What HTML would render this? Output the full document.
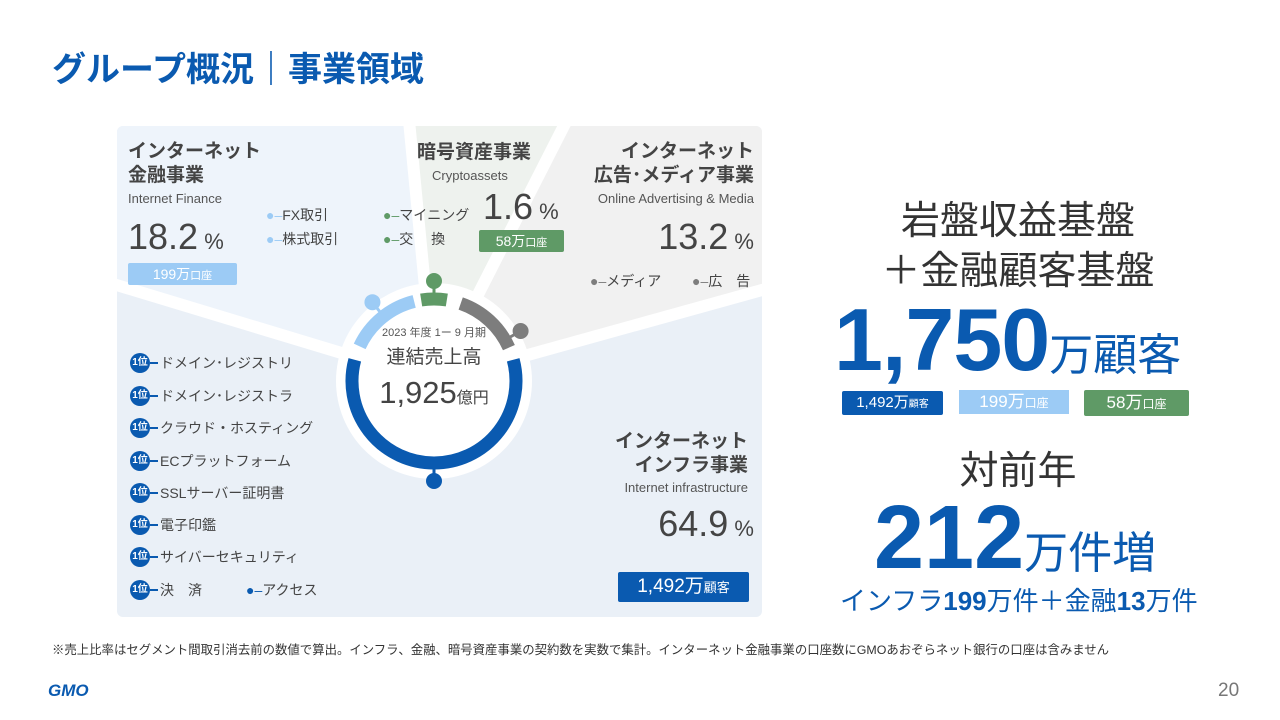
<!DOCTYPE html>
<html><head><meta charset="utf-8"><style>
body{margin:0;width:1280px;height:720px;background:#fff;overflow:hidden;position:relative;font-family:"Liberation Sans","Noto Sans CJK JP",sans-serif;color:#444}
.a{position:absolute;white-space:nowrap}
.h{font-weight:bold;font-size:19px;color:#444;line-height:24px}
.en{font-size:13px;color:#555}
.pct{font-size:36px;color:#444}
.pct small{font-size:22px}
.li{font-size:14px;color:#444}
.rank{position:absolute;left:130px;width:20px;height:20px;border-radius:50%;background:#0a5ab0;color:#fff;font-size:10px;text-align:center;line-height:20px;font-weight:bold}
.rl{position:absolute;left:160px;font-size:14px;color:#444}
.rk{position:absolute;left:150px;width:8px;height:2px;background:#0a5ab0}
</style></head><body>
<div class="a" style="left:52px;top:42px;font-size:34px;font-weight:bold;color:#0a5ab0">グループ概況｜事業領域</div>

<svg class="a" style="left:0;top:0" width="1280" height="720">
 <defs><clipPath id="c"><rect x="117" y="126" width="645" height="491" rx="6"/></clipPath></defs>
 <g clip-path="url(#c)">
  <rect x="117" y="126" width="645" height="491" fill="#eaf0f7"/>
  <polygon points="117,126 410,126 434,381 117,285" fill="#eef4fb"/>
  <polygon points="410,126 565,126 434,381" fill="#eef2ee"/>
  <polygon points="565,126 762,126 762,290 434,381" fill="#f1f1f1"/>
  <g stroke="#fff" stroke-width="12">
   <line x1="408" y1="110" x2="434" y2="381"/><line x1="572" y1="110" x2="434" y2="381"/>
   <line x1="100" y1="280" x2="434" y2="381"/><line x1="780" y1="285" x2="434" y2="381"/>
  </g>
 </g>
 <circle cx="434" cy="381" r="98" fill="#fff"/>
 <g id="donut"></g>
</svg>

<script>
const segNames=['infra','finance','crypto','media'];
const segStart=[75,295,-9,19];
const segEnd=[285,346,9,66];
const segColors=['#0a5ab0','#9ccbf5','#5f9a66','#7d7d7d'];
const pinAngle=[180,322,0,60];
const g=document.getElementById('donut');const cx=434,cy=381,r=82;
function pt(a,rr){const t=a*Math.PI/180;return [cx+rr*Math.sin(t),cy-rr*Math.cos(t)];}
for(let i=0;i<segNames.length;i++){
 const p1=pt(segStart[i],r),p2=pt(segEnd[i],r);const large=(segEnd[i]-segStart[i])>180?1:0;
 const p=document.createElementNS('http://www.w3.org/2000/svg','path');
 p.setAttribute('d',`M${p1[0]},${p1[1]} A${r},${r} 0 ${large} 1 ${p2[0]},${p2[1]}`);
 p.setAttribute('fill','none');p.setAttribute('stroke',segColors[i]);p.setAttribute('stroke-width','13');
 
 
 g.appendChild(p);
 const a=pt(pinAngle[i],r+6),b=pt(pinAngle[i],r+18);
 const l=document.createElementNS('http://www.w3.org/2000/svg','line');
 l.setAttribute('x1',a[0]);l.setAttribute('y1',a[1]);l.setAttribute('x2',b[0]);l.setAttribute('y2',b[1]);
 l.setAttribute('stroke',segColors[i]);l.setAttribute('stroke-width','3');
 
 
 g.appendChild(l);
 const c=document.createElementNS('http://www.w3.org/2000/svg','circle');
 c.setAttribute('cx',b[0]);c.setAttribute('cy',b[1]);c.setAttribute('r','8');c.setAttribute('fill',segColors[i]);
 
 
 g.appendChild(c);
}
</script>

<div class="a" style="left:354px;top:324px;width:160px;text-align:center">
 <div style="font-size:11px;color:#555">2023 年度 1ー 9 月期</div>
 <div style="font-size:19px;color:#444;margin-top:2px">連結売上高</div>
 <div style="font-size:31px;color:#444;margin-top:6px">1,925<span style="font-size:16px">億円</span></div>
</div>

<!-- finance -->
<div class="a h" style="left:128px;top:140px">インターネット<br>金融事業</div>
<div class="a en" style="left:128px;top:191px">Internet Finance</div>
<div class="a pct" style="left:128px;top:216px">18.2<small> %</small></div>
<div class="a" style="left:128px;top:263px;width:109px;height:22px;background:#9ccbf5;color:#fff;text-align:center;font-size:14px;line-height:22px;border-radius:2px">199万<span style="font-size:11px">口座</span></div>
<div class="a li" style="left:266px;top:205px"><span style="color:#9ccbf5">●‒</span>FX取引</div>
<div class="a li" style="left:266px;top:229px"><span style="color:#9ccbf5">●‒</span>株式取引</div>
<!-- crypto -->
<div class="a h" style="left:417px;top:141px">暗号資産事業</div>
<div class="a en" style="left:432px;top:168px">Cryptoassets</div>
<div class="a li" style="left:383px;top:205px"><span style="color:#5f9a66">●‒</span>マイニング</div>
<div class="a li" style="left:383px;top:229px"><span style="color:#5f9a66">●‒</span>交　 換</div>
<div class="a pct" style="left:483px;top:186px">1.6<small> %</small></div>
<div class="a" style="left:479px;top:230px;width:85px;height:22px;background:#5f9a66;color:#fff;text-align:center;font-size:14px;line-height:22px;border-radius:2px">58万<span style="font-size:11px">口座</span></div>
<!-- media -->
<div class="a h" style="right:526px;top:140px;text-align:right">インターネット<br>広告･メディア事業</div>
<div class="a en" style="right:526px;top:191px">Online Advertising &amp; Media</div>
<div class="a pct" style="right:526px;top:216px">13.2<small> %</small></div>
<div class="a li" style="left:590px;top:271px"><span style="color:#7d7d7d">●‒</span>メディア</div>
<div class="a li" style="left:692px;top:271px"><span style="color:#7d7d7d">●‒</span>広　告</div>
<!-- infra -->
<div class="a h" style="right:532px;top:430px;text-align:right">インターネット<br>インフラ事業</div>
<div class="a en" style="right:532px;top:480px">Internet infrastructure</div>
<div class="a pct" style="right:526px;top:503px">64.9<small> %</small></div>
<div class="a" style="left:618px;top:572px;width:131px;height:30px;background:#0a5ab0;color:#fff;text-align:center;font-size:19px;line-height:30px;border-radius:2px">1,492万<span style="font-size:13px">顧客</span></div>

<div>
<div class="rank" style="top:353px">1位</div><div class="rk" style="top:362px"></div><div class="rl" style="top:353px">ドメイン･レジストリ</div>
<div class="rank" style="top:386px">1位</div><div class="rk" style="top:395px"></div><div class="rl" style="top:386px">ドメイン･レジストラ</div>
<div class="rank" style="top:418px">1位</div><div class="rk" style="top:427px"></div><div class="rl" style="top:418px">クラウド・ホスティング</div>
<div class="rank" style="top:451px">1位</div><div class="rk" style="top:460px"></div><div class="rl" style="top:451px">ECプラットフォーム</div>
<div class="rank" style="top:483px">1位</div><div class="rk" style="top:492px"></div><div class="rl" style="top:483px">SSLサーバー証明書</div>
<div class="rank" style="top:515px">1位</div><div class="rk" style="top:524px"></div><div class="rl" style="top:515px">電子印鑑</div>
<div class="rank" style="top:547px">1位</div><div class="rk" style="top:556px"></div><div class="rl" style="top:547px">サイバーセキュリティ</div>
<div class="rank" style="top:580px">1位</div><div class="rk" style="top:589px"></div><div class="rl" style="top:580px">決　済</div>
<div class="a li" style="left:246px;top:580px"><span style="color:#0a5ab0">●‒</span>アクセス</div>
</div>

<!-- right -->
<div class="a" style="left:858px;top:190px;width:320px;text-align:center;font-size:39px;color:#333">岩盤収益基盤</div>
<div class="a" style="left:858px;top:240px;width:320px;text-align:center;font-size:39px;color:#333">＋金融顧客基盤</div>
<div class="a" style="left:834px;top:292px;font-size:88px;font-weight:bold;color:#0a5ab0;line-height:96px;letter-spacing:-1px">1,750<span style="font-size:44px;font-weight:normal;letter-spacing:0">万顧客</span></div>
<div class="a" style="left:842px;top:391px;width:101px;height:24px;background:#0a5ab0;color:#fff;text-align:center;font-size:15px;line-height:24px;border-radius:2px">1,492万<span style="font-size:10px">顧客</span></div>
<div class="a" style="left:959px;top:390px;width:110px;height:24px;background:#9ccbf5;color:#fff;text-align:center;font-size:17px;line-height:24px">199万<span style="font-size:12px">口座</span></div>
<div class="a" style="left:1084px;top:390px;width:105px;height:26px;background:#5f9a66;color:#fff;text-align:center;font-size:17px;line-height:26px;border-radius:2px">58万<span style="font-size:12px">口座</span></div>
<div class="a" style="left:858px;top:440px;width:320px;text-align:center;font-size:39px;color:#333">対前年</div>
<div class="a" style="left:874px;top:490px;font-size:90px;font-weight:bold;color:#0a5ab0;line-height:96px">212<span style="font-size:44px;font-weight:normal">万件増</span></div>
<div class="a" style="left:840px;top:581px;font-size:26px;color:#0a5ab0">インフラ<b>199</b>万件＋金融<b>13</b>万件</div>

<div class="a" style="left:52px;top:640px;font-size:12.4px;color:#333">※売上比率はセグメント間取引消去前の数値で算出。インフラ、金融、暗号資産事業の契約数を実数で集計。インターネット金融事業の口座数にGMOあおぞらネット銀行の口座は含みません</div>
<div class="a" style="left:48px;top:681px;font-size:17px;font-weight:bold;color:#0a5ab0;font-style:italic">GMO</div>
<div class="a" style="left:1218px;top:680px;font-size:19px;color:#777">20</div>
</body></html>
